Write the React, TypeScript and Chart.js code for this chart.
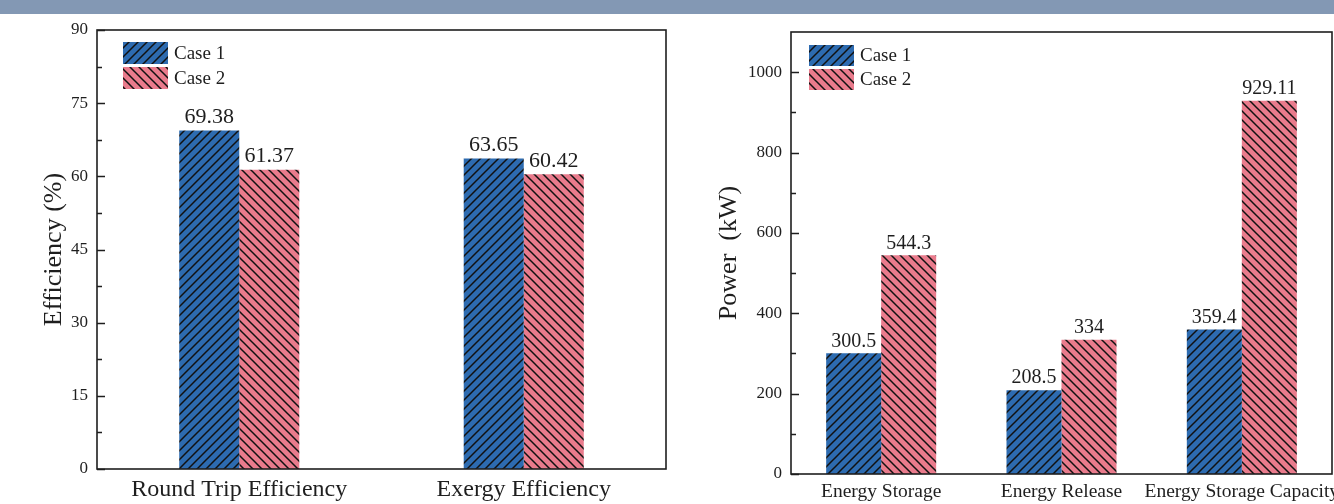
import React, { useEffect, useRef } from "react";
import { Chart, registerables } from "chart.js";

Chart.register(...registerables);

// ---------- data ----------
const seriesLabels = ["Case 1", "Case 2"];

const effCategories = ["Round Trip Efficiency", "Exergy Efficiency"];
const effCase1 = [69.38, 63.65];
const effCase2 = [61.37, 60.42];
const effTicks = [0, 15, 30, 45, 60, 75, 90];
const effMinorTicks = [7.5, 22.5, 37.5, 52.5, 67.5, 82.5];

const powCategories = ["Energy Storage", "Energy Release", "Energy Storage Capacity"];
const powCase1 = [300.5, 208.5, 359.4];
const powCase2 = [544.3, 334, 929.11];
const powTicks = [0, 200, 400, 600, 800, 1000];
const powMinorTicks = [100, 300, 500, 700, 900];

// ---------- styling helpers ----------
const FONT = "'Liberation Serif', 'Times New Roman', serif";
const BLUE = "#2d6bb0";
const PINK = "#e97b8c";
const INK = "#1e1e1e";

function makeHatch(bg: string, dir: number): CanvasPattern | string {
  const s = 9;
  const c = document.createElement("canvas");
  c.width = s;
  c.height = s;
  const g = c.getContext("2d");
  if (!g) return bg;
  g.fillStyle = bg;
  g.fillRect(0, 0, s, s);
  g.strokeStyle = "#111";
  g.lineWidth = 1.5;
  g.beginPath();
  if (dir > 0) {
    g.moveTo(-2, s + 2);
    g.lineTo(s + 2, -2);
    g.moveTo(-2, 2);
    g.lineTo(2, -2);
    g.moveTo(s - 2, s + 2);
    g.lineTo(s + 2, s - 2);
  } else {
    g.moveTo(-2, -2);
    g.lineTo(s + 2, s + 2);
    g.moveTo(s - 2, -2);
    g.lineTo(s + 2, 2);
    g.moveTo(-2, s - 2);
    g.lineTo(2, s + 2);
  }
  g.stroke();
  return g.createPattern(c, "repeat") || bg;
}

const framePlugin = {
  id: "frameTicks",
  afterDraw(chart: any, _args: any, opts: any) {
    const { ctx, chartArea: a, scales } = chart;
    const y = scales.y;
    ctx.save();
    ctx.strokeStyle = INK;
    ctx.lineWidth = 1.6;
    ctx.strokeRect(a.left, a.top, a.right - a.left, a.bottom - a.top);
    ctx.beginPath();
    for (const v of opts.major || []) {
      const py = Math.round(y.getPixelForValue(v)) + 0.5;
      ctx.moveTo(a.left, py);
      ctx.lineTo(a.left + 8, py);
    }
    for (const v of opts.minor || []) {
      const py = Math.round(y.getPixelForValue(v)) + 0.5;
      ctx.moveTo(a.left, py);
      ctx.lineTo(a.left + 5, py);
    }
    ctx.stroke();
    ctx.restore();
  },
};

const valueLabelPlugin = {
  id: "valueLabels",
  afterDatasetsDraw(chart: any, _args: any, opts: any) {
    const { ctx } = chart;
    ctx.save();
    ctx.fillStyle = INK;
    ctx.font = `${opts.size}px ${FONT}`;
    ctx.textAlign = "center";
    ctx.textBaseline = "bottom";
    chart.data.datasets.forEach((ds: any, i: number) => {
      const meta = chart.getDatasetMeta(i);
      meta.data.forEach((el: any, j: number) => {
        ctx.fillText(String(ds.data[j]), el.x, el.y - (opts.gap || 2));
      });
    });
    ctx.restore();
  },
};

const innerLegendPlugin = {
  id: "innerLegend",
  afterDraw(chart: any, _args: any, opts: any) {
    const { ctx, chartArea: a } = chart;
    ctx.save();
    ctx.font = `${opts.size}px ${FONT}`;
    ctx.textBaseline = "middle";
    ctx.textAlign = "left";
    chart.data.datasets.forEach((ds: any, i: number) => {
      const x = a.left + opts.dx;
      const y = a.top + opts.dy + i * opts.step;
      ctx.fillStyle = ds.backgroundColor;
      ctx.fillRect(x, y, opts.w, opts.h);
      ctx.fillStyle = INK;
      ctx.fillText(ds.label, x + opts.w + 6, y + opts.h / 2 + 1);
    });
    ctx.restore();
  },
};

type PanelProps = {
  left: number;
  width: number;
  categories: string[];
  s1: number[];
  s2: number[];
  ticks: number[];
  minor: number[];
  max: number;
  yTitle: string;
  area: { left: number; right: number; top: number; bottom: number };
  catPct: number;
  catFont: number;
  catPad: number;
  valFont: number;
  titlePad: number;
  legend: { dx: number; dy: number; step: number; w: number; h: number; size: number };
};

function Panel(p: PanelProps) {
  const ref = useRef<HTMLCanvasElement | null>(null);
  useEffect(() => {
    const canvas = ref.current;
    if (!canvas) return;
    const height = 504;
    const chart = new Chart(canvas, {
      type: "bar",
      data: {
        labels: p.categories,
        datasets: [
          {
            label: seriesLabels[0],
            data: p.s1,
            backgroundColor: makeHatch(BLUE, 1) as any,
            borderWidth: 0,
            categoryPercentage: p.catPct,
            barPercentage: 1,
          },
          {
            label: seriesLabels[1],
            data: p.s2,
            backgroundColor: makeHatch(PINK, -1) as any,
            borderWidth: 0,
            categoryPercentage: p.catPct,
            barPercentage: 1,
          },
        ],
      },
      options: {
        responsive: false,
        animation: false,
        devicePixelRatio: 1,
        layout: {
          padding: {
            left: 0,
            top: p.area.top,
            right: p.width - p.area.right,
            bottom: 0,
          },
        },
        plugins: {
          legend: { display: false },
          tooltip: { enabled: false },
          frameTicks: { major: p.ticks, minor: p.minor },
          valueLabels: { size: p.valFont, gap: 2 },
          innerLegend: p.legend,
        } as any,
        scales: {
          x: {
            grid: { display: false, drawTicks: false },
            border: { display: false },
            ticks: {
              color: INK,
              font: { family: FONT, size: p.catFont },
              padding: p.catPad,
              maxRotation: 0,
              autoSkip: false,
            },
            afterFit: (scale: any) => {
              scale.height = height - p.area.bottom;
            },
          },
          y: {
            min: 0,
            max: p.max,
            grid: { display: false, drawTicks: false },
            border: { display: false },
            ticks: {
              color: INK,
              font: { family: FONT, size: 17 },
              padding: 9,
              callback: (v: any) => String(v),
            },
            afterBuildTicks: (scale: any) => {
              scale.ticks = p.ticks.map((v) => ({ value: v }));
            },
            title: {
              display: true,
              text: p.yTitle,
              color: INK,
              font: { family: FONT, size: 26 },
              padding: { top: p.titlePad, bottom: 0 },
            },
            afterFit: (scale: any) => {
              scale.width = p.area.left;
            },
          },
        },
      },
      plugins: [framePlugin, valueLabelPlugin, innerLegendPlugin],
    });
    return () => chart.destroy();
  }, []);
  return (
    <div style={{ position: "absolute", left: p.left, top: 0, width: p.width, height: 504 }}>
      <canvas ref={ref} width={p.width} height={504} style={{ display: "block" }} />
    </div>
  );
}

export default function App() {
  return (
    <div
      style={{
        position: "fixed",
        left: 0,
        top: 0,
        width: 1334,
        height: 504,
        overflow: "hidden",
        background: "#ffffff",
      }}
    >
      <div
        style={{ position: "absolute", left: 0, top: 0, width: 1334, height: 14, background: "#8398b4" }}
      />
      <Panel
        left={0}
        width={690}
        categories={effCategories}
        s1={effCase1}
        s2={effCase2}
        ticks={effTicks}
        minor={effMinorTicks}
        max={90}
        yTitle="Efficiency (%)"
        area={{ left: 97, right: 666, top: 30, bottom: 469 }}
        catPct={0.422}
        catFont={24}
        catPad={6}
        valFont={22}
        titlePad={39}
        legend={{ dx: 26, dy: 12, step: 25, w: 45, h: 22, size: 19 }}
      />
      <Panel
        left={690}
        width={720}
        categories={powCategories}
        s1={powCase1}
        s2={powCase2}
        ticks={powTicks}
        minor={powMinorTicks}
        max={1100}
        yTitle="Power  (kW)"
        area={{ left: 101, right: 642, top: 32, bottom: 474 }}
        catPct={0.61}
        catFont={19.5}
        catPad={6}
        valFont={20}
        titlePad={24}
        legend={{ dx: 18, dy: 13, step: 24, w: 45, h: 21, size: 19 }}
      />
    </div>
  );
}
